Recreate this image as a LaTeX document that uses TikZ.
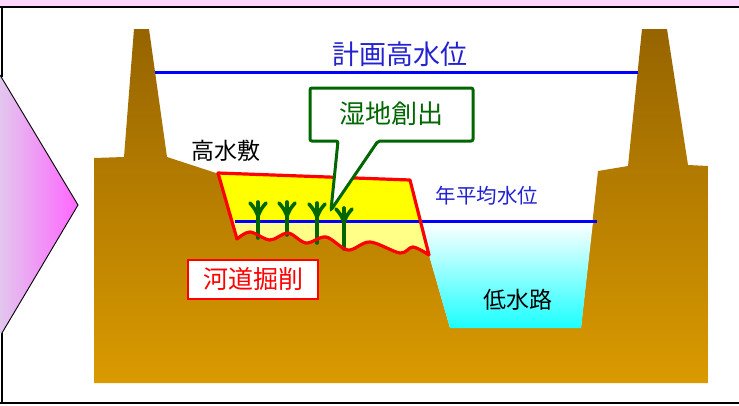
\documentclass[tikz,border=0pt]{standalone}
\usepackage{fontspec}
\newfontfamily\jpfont{Noto Sans CJK JP}
\definecolor{bandpink}{HTML}{FFD6FF}
\definecolor{chevL}{HTML}{E2C6EE}
\definecolor{chevR}{HTML}{FF66FF}
\definecolor{earthTop}{HTML}{966400}
\definecolor{earthBot}{HTML}{DA9A00}
\definecolor{waterBot}{HTML}{1CFFFF}
\definecolor{lineblue}{HTML}{0000FF}
\definecolor{textblue}{HTML}{2222D0}
\definecolor{marsh}{HTML}{FFFF00}
\definecolor{palemarsh}{HTML}{FFFF88}
\definecolor{reedgreen}{HTML}{006600}
\newcommand\jp[1]{\fontsize{#1}{#1}\selectfont\jpfont}
% excavated high-water bed: trapezoid with a wavy bottom
\newcommand\trapshape{(218,173) -- (410,180) -- plot[smooth, tension=0.55] coordinates {(429,255) (413,247) (400,253) (370,242) (348,250) (326,237) (306,243) (288,233) (270,240) (250,232) (237,239)} -- cycle}
\begin{document}
\begin{tikzpicture}[x=1pt,y=-1pt,
  frameline/.style={black, line width=1.4pt},
  waterline/.style={lineblue, line width=3pt},
  reed/.style={reedgreen, line width=3.6pt, line cap=round},
  lbl/.style={inner sep=0pt, anchor=center}]
\useasboundingbox (0,0) rectangle (739,405);

% frame
\fill[bandpink] (0,0) rectangle (739,7);
\draw[frameline] (0,7) -- (739,7);
\draw[frameline] (2,7) -- (2,77);
\draw[frameline] (2,333) -- (2,403);
\draw[frameline] (0,403) -- (739,403);

% arrow chevron on the left
\shade[left color=chevL, right color=chevR] (0,75) -- (78,205) -- (2,333) -- (0,333) -- cycle;
\draw[black, line width=0.9pt] (0,75) -- (78,205) -- (2,333);

% earth cross-section with levees
\shade[top color=earthTop, bottom color=earthBot]
  (94,383) -- (94,158) -- (124,157) -- (134,29) -- (149,29) -- (167,157)
  -- (216,173) -- (410,180) -- (429,255) -- (450,328) -- (581,328)
  -- (598,171) -- (628,166) -- (642,29) -- (667,29) -- (688,165)
  -- (708,166) -- (708,383) -- cycle;

% low-water channel
\shade[top color=white, bottom color=waterBot]
  (415,222) -- (593,222) -- (581,328) -- (450,328) -- (429,255) -- cycle;

% planned high water level
\draw[waterline] (155,72) -- (638,72);

% excavated bed fill
\begin{scope}
  \clip \trapshape;
  \fill[marsh] (200,160) rectangle (440,221);
  \fill[palemarsh] (200,221) rectangle (440,262);
\end{scope}

% mean annual water level
\draw[waterline] (235,221) -- (597,221);

% reeds
\foreach \x/\b/\t in {258/238/202, 287/235/202, 317/243/203, 344/249/208}{
  \draw[reed] (\x,\b) -- (\x,\t);
  \draw[reed] (\x,\t+14) .. controls (\x-3,\t+7) .. (\x-8,\t+1);
  \draw[reed] (\x,\t+14) .. controls (\x+3,\t+7) .. (\x+8,\t+1);
}

% outline of the excavated bed
\draw[red, line width=3.2pt, line join=round] \trapshape;

% callout
\draw[reedgreen, line width=3pt, fill=white, rounded corners=2pt]
  (338,141) -- (331,210) -- (378,141) -- (473,141) -- (473,88) -- (310,88) -- (310,141) -- cycle;
\node[lbl, text=reedgreen, font=\jp{26}] (wet) at (391,114) {湿地創出};

% labels
\node[lbl, text=textblue, font=\jp{27}] (hwl) at (400,54) {計画高水位};
\node[lbl, text=black, font=\jp{23}] (hsk) at (226,151) {高水敷};
\node[lbl, text=textblue, font=\jp{20.5}] (amw) at (487,196) {年平均水位};
\node[lbl, text=black, font=\jp{23}] (lwc) at (518,300) {低水路};
\node[draw=red, line width=2.2pt, fill=white, text=red, font=\jp{25},
  minimum width=130pt, minimum height=39pt, inner sep=0pt] (dig) at (253,279.5) {河道掘削};
\end{tikzpicture}
\end{document}
